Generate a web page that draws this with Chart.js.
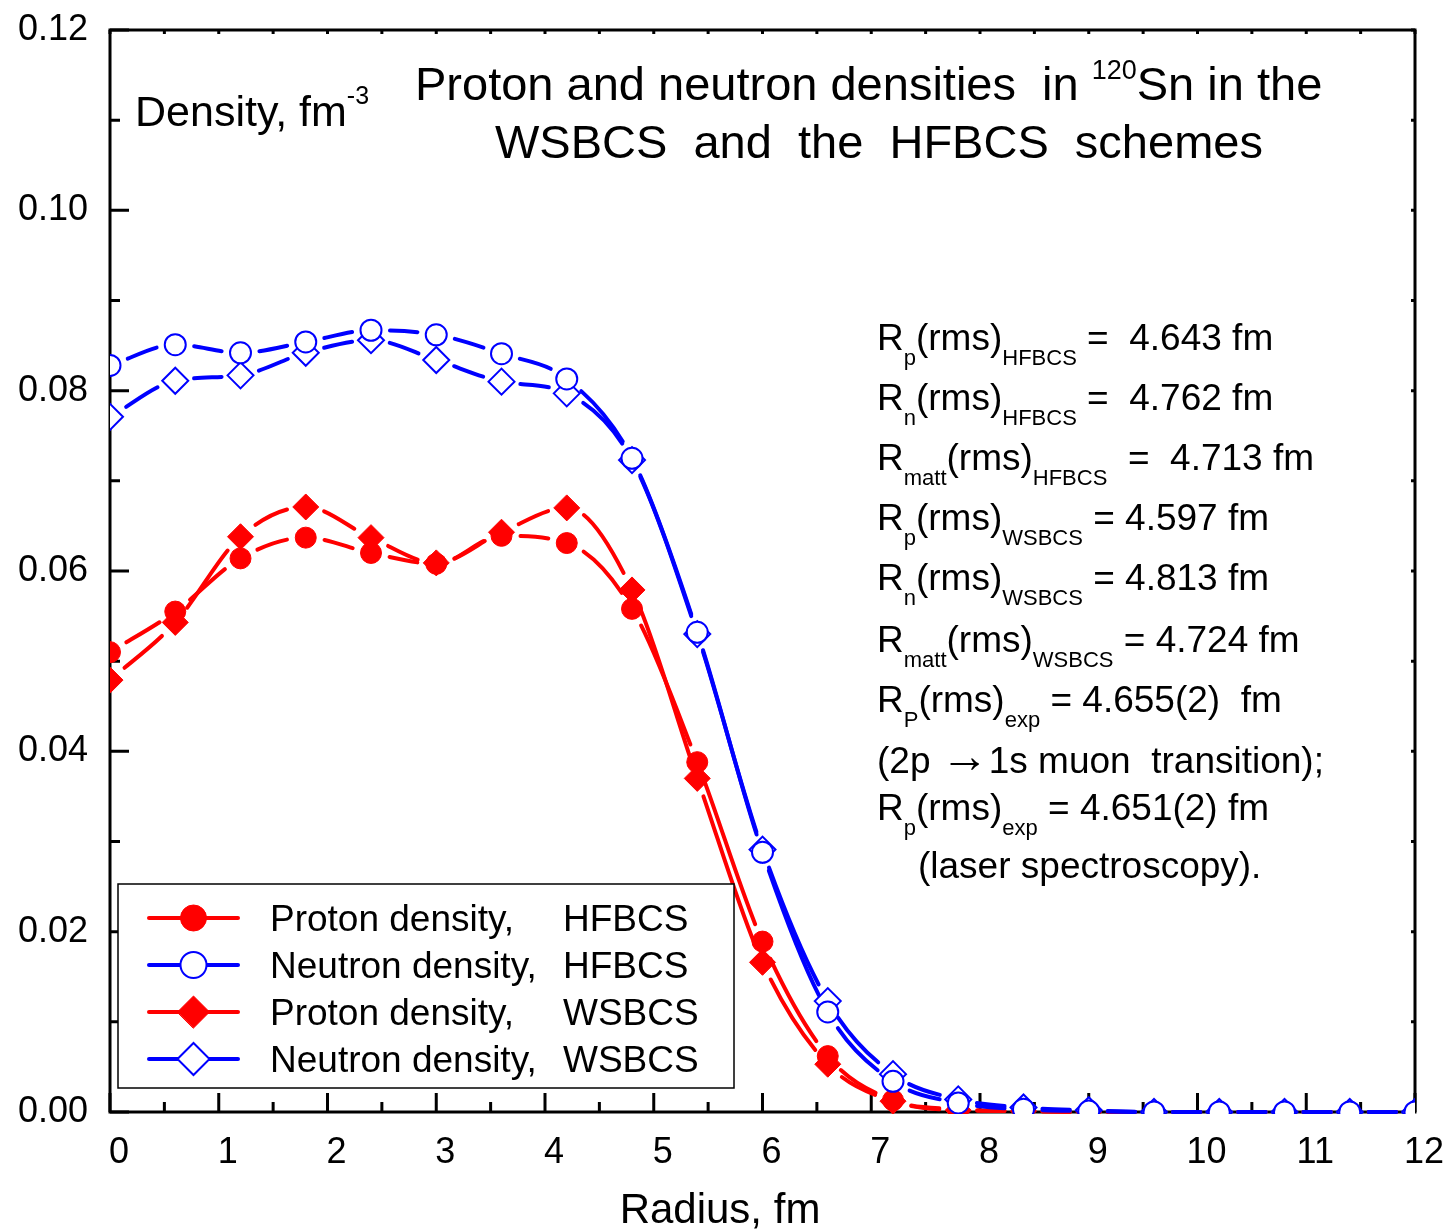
<!DOCTYPE html>
<html>
<head>
<meta charset="utf-8">
<title>Proton and neutron densities in 120Sn</title>
<script src="https://cdn.jsdelivr.net/npm/chart.js@4.4.1/dist/chart.umd.min.js"></script>
<style>
  html, body { margin: 0; padding: 0; background: #fff; }
  #wrap { position: relative; width: 1450px; height: 1230px; }
</style>
</head>
<body>
<div id="wrap"><canvas id="densityChart"></canvas></div>
<script>
const FONT = '"Liberation Sans", Arial, Helvetica, sans-serif';

// radial grid, fm
const radiusFm = [0, 0.6, 1.2, 1.8, 2.4, 3.0, 3.6, 4.2, 4.8, 5.4, 6.0, 6.6, 7.2, 7.8, 8.4, 9.0, 9.6, 10.2, 10.8, 11.4, 12.0];

// densities, fm^-3
const protonHFBCS  = [0.0510, 0.0555, 0.0614, 0.0637, 0.0620, 0.0608, 0.0639, 0.0631, 0.0558, 0.0388, 0.0189, 0.0062, 0.0013, 0.0003, 0.0001, 0, 0, 0, 0, 0, 0];
const neutronHFBCS = [0.0828, 0.0851, 0.0842, 0.0854, 0.0867, 0.0862, 0.0841, 0.0813, 0.0725, 0.0532, 0.0288, 0.0111, 0.0034, 0.0010, 0.0003, 0.0001, 0, 0, 0, 0, 0];
const protonWSBCS  = [0.0479, 0.0543, 0.0638, 0.0671, 0.0637, 0.0609, 0.0643, 0.0670, 0.0579, 0.0370, 0.0166, 0.0053, 0.0012, 0.0002, 0.0001, 0, 0, 0, 0, 0, 0];
const neutronWSBCS = [0.0771, 0.0811, 0.0817, 0.0842, 0.0856, 0.0834, 0.0810, 0.0797, 0.0723, 0.0530, 0.0291, 0.0123, 0.0042, 0.0014, 0.0005, 0.0002, 0, 0, 0, 0, 0];

const xTicks = [0, 1, 2, 3, 4, 5, 6, 7, 8, 9, 10, 11, 12];
const yTicks = [0, 0.02, 0.04, 0.06, 0.08, 0.10, 0.12];

const legendRows = [
  ['Proton density,', 'HFBCS'],
  ['Neutron density,', 'HFBCS'],
  ['Proton density,', 'WSBCS'],
  ['Neutron density,', 'WSBCS']
];

const titleLines = [
  [['Proton and neutron densities  in '], ['120', 'sup'], ['Sn in the']],
  [['WSBCS  and  the  HFBCS  schemes']]
];

const rmsLines = [
  [['R'], ['p', 'sub'], ['(rms)'], ['HFBCS', 'sub'], [' =  4.643 fm']],
  [['R'], ['n', 'sub'], ['(rms)'], ['HFBCS', 'sub'], [' =  4.762 fm']],
  [['R'], ['matt', 'sub'], ['(rms)'], ['HFBCS', 'sub'], ['  =  4.713 fm']],
  [['R'], ['p', 'sub'], ['(rms)'], ['WSBCS', 'sub'], [' = 4.597 fm']],
  [['R'], ['n', 'sub'], ['(rms)'], ['WSBCS', 'sub'], [' = 4.813 fm']],
  [['R'], ['matt', 'sub'], ['(rms)'], ['WSBCS', 'sub'], [' = 4.724 fm']],
  [['R'], ['P', 'sub'], ['(rms)'], ['exp', 'sub'], [' = 4.655(2)  fm']],
  [['(2p '], ['\u2192', 'big'], ['1s muon  transition);']],
  [['R'], ['p', 'sub'], ['(rms)'], ['exp', 'sub'], [' = 4.651(2) fm']],
  [['(laser spectroscopy).']]
];

const RED = '#ff0000';
const BLUE = '#0000ff';
const GAP = 19; // blank space left around each symbol

// length of one bezier piece of the line (chord if control points are not ready)
function pieceLength(p0, p1) {
  if (p0.cp2x === undefined || p1.cp1x === undefined) {
    return Math.hypot(p1.x - p0.x, p1.y - p0.y);
  }
  let len = 0, px = p0.x, py = p0.y;
  for (let k = 1; k <= 30; k++) {
    const t = k / 30, u = 1 - t;
    const x = u * u * u * p0.x + 3 * u * u * t * p0.cp2x + 3 * u * t * t * p1.cp1x + t * t * t * p1.x;
    const y = u * u * u * p0.y + 3 * u * u * t * p0.cp2y + 3 * u * t * t * p1.cp1y + t * t * t * p1.y;
    len += Math.hypot(x - px, y - py);
    px = x; py = y;
  }
  return len;
}

function dashFor(c) {
  const len = pieceLength(c.p0, c.p1);
  const on = Math.max(len - 2 * GAP, 0.5);
  const off = 2 * GAP + 1000 + c.p0DataIndex * 0.001; // unique per piece so each is stroked alone
  return { on, off };
}

const gapAroundSymbols = {
  borderDash: c => { const d = dashFor(c); return [d.on, d.off]; },
  borderDashOffset: c => { const d = dashFor(c); return d.on + d.off - GAP; }
};

function series(label, values, color, shape, filled, order) {
  return {
    label: label,
    data: radiusFm.map((r, i) => ({ x: r, y: values[i] })),
    borderColor: color,
    borderWidth: 4,
    borderCapStyle: 'round',
    cubicInterpolationMode: 'monotone',
    fill: false,
    pointStyle: shape,
    pointRadius: shape === 'circle' ? 10.5 : 13,
    pointBorderWidth: filled ? 1 : 2,
    pointBorderColor: color,
    pointBackgroundColor: filled ? color : '#ffffff',
    order: order,
    clip: { left: 0, top: 0, right: 0, bottom: 2 },
    segment: gapAroundSymbols
  };
}

function drawRich(ctx, x, y, runs, size, small, subDy, supDy) {
  let cx = x;
  for (const [text, kind] of runs) {
    let s = size, dy = 0;
    if (kind === 'sub') { s = small; dy = subDy; }
    else if (kind === 'sup') { s = small; dy = -supDy; }
    else if (kind === 'big') { s = Math.round(size * 1.3); dy = -1; }
    ctx.font = s + 'px ' + FONT;
    ctx.fillText(text, cx, y + dy);
    cx += ctx.measureText(text).width;
  }
}

// frame with inward ticks on all four sides
const framePlugin = {
  id: 'frame',
  beforeDatasetsDraw(chart) {
    const { ctx, chartArea: a, scales: { x, y } } = chart;
    ctx.save();
    ctx.strokeStyle = '#000';
    ctx.lineWidth = 3;
    ctx.lineCap = 'butt';
    ctx.beginPath();
    for (let i = 0; i < xTicks.length; i++) {
      const vals = [xTicks[i]];
      if (i < xTicks.length - 1) vals.push((xTicks[i] + xTicks[i + 1]) / 2);
      vals.forEach((v, j) => {
        const px = x.getPixelForValue(v);
        const len = j === 0 ? 19 : 10;
        ctx.moveTo(px, a.bottom); ctx.lineTo(px, a.bottom - len);
        ctx.moveTo(px, a.top); ctx.lineTo(px, a.top + 4);
      });
    }
    for (let i = 0; i < yTicks.length; i++) {
      const vals = [yTicks[i]];
      if (i < yTicks.length - 1) vals.push((yTicks[i] + yTicks[i + 1]) / 2);
      vals.forEach((v, j) => {
        const py = y.getPixelForValue(v);
        const len = j === 0 ? 19 : 10;
        ctx.moveTo(a.left, py); ctx.lineTo(a.left + len, py);
        ctx.moveTo(a.right, py); ctx.lineTo(a.right - 4, py);
      });
    }
    ctx.stroke();
    ctx.strokeRect(a.left, a.top, a.right - a.left, a.bottom - a.top);
    ctx.restore();
  },
  afterDatasetsDraw(chart) {
    const ctx = chart.ctx;
    const sets = chart.data.datasets;
    ctx.save();
    // legend box
    ctx.fillStyle = '#fff';
    ctx.fillRect(118, 884, 616, 204);
    ctx.strokeStyle = '#000';
    ctx.lineWidth = 1.5;
    ctx.strokeRect(118, 884, 616, 204);
    legendRows.forEach((row, i) => {
      const ds = sets[i];
      const cy = 918 + i * 47;
      ctx.strokeStyle = ds.borderColor;
      ctx.lineWidth = 4;
      ctx.lineCap = 'round';
      ctx.setLineDash([]);
      ctx.beginPath();
      ctx.moveTo(149, cy); ctx.lineTo(238, cy);
      ctx.stroke();
      ctx.beginPath();
      const mx = 193.5;
      if (ds.pointStyle === 'circle') {
        ctx.arc(mx, cy, 13, 0, Math.PI * 2);
      } else {
        ctx.moveTo(mx - 16, cy); ctx.lineTo(mx, cy - 16);
        ctx.lineTo(mx + 16, cy); ctx.lineTo(mx, cy + 16);
        ctx.closePath();
      }
      ctx.fillStyle = ds.pointBackgroundColor;
      ctx.fill();
      ctx.lineWidth = ds.pointBorderWidth;
      ctx.strokeStyle = ds.pointBorderColor;
      ctx.stroke();
      ctx.fillStyle = '#000';
      ctx.font = '37px ' + FONT;
      ctx.textBaseline = 'alphabetic';
      ctx.textAlign = 'left';
      ctx.fillText(row[0], 270, cy + 13);
      ctx.fillText(row[1], 563, cy + 13);
    });
    ctx.restore();
  },
  afterDraw(chart) {
    const ctx = chart.ctx;
    ctx.save();
    ctx.fillStyle = '#000';
    ctx.textBaseline = 'alphabetic';
    ctx.textAlign = 'left';
    // title
    drawRich(ctx, 415, 100, titleLines[0], 47, 27, 0, 21);
    drawRich(ctx, 495, 158, titleLines[1], 47, 27, 0, 21);
    // y axis label
    drawRich(ctx, 135, 126, [['Density, fm'], ['-3', 'sup']], 43, 25, 0, 22);
    // rms radii
    const baselines = [350, 410, 470, 530, 590, 652, 712, 773, 820, 878];
    rmsLines.forEach((runs, i) => {
      const x0 = i === rmsLines.length - 1 ? 918 : 877;
      drawRich(ctx, x0, baselines[i], runs, 37, 22, 15, 0);
    });
    // x axis label
    ctx.font = '42px ' + FONT;
    ctx.textAlign = 'center';
    ctx.fillText('Radius, fm', 720, 1223);
    ctx.restore();
  }
};

const ctx = document.getElementById('densityChart').getContext('2d');

const densityChart = new Chart(ctx, {
  type: 'line',
  data: {
    datasets: [
      series('Proton density, HFBCS', protonHFBCS, RED, 'circle', true, 2),
      series('Neutron density, HFBCS', neutronHFBCS, BLUE, 'circle', false, 0),
      series('Proton density, WSBCS', protonWSBCS, RED, 'rectRot', true, 3),
      series('Neutron density, WSBCS', neutronWSBCS, BLUE, 'rectRot', false, 1)
    ]
  },
  options: {
    responsive: true,
    maintainAspectRatio: false,
    animation: false,
    events: [],
    layout: { padding: { top: 30, right: 35, left: 0, bottom: 0 } },
    plugins: {
      legend: { display: false },
      tooltip: { enabled: false }
    },
    scales: {
      x: {
        type: 'linear',
        min: 0,
        max: 12,
        afterBuildTicks: s => { s.ticks = xTicks.map(v => ({ value: v })); },
        afterFit: s => { s.height = 118; s.paddingLeft = 0; s.paddingRight = 0; },
        grid: { display: false, drawTicks: false },
        border: { display: false },
        ticks: {
          color: '#000',
          font: { family: FONT, size: 36 },
          padding: 19,
          labelOffset: 9,
          maxRotation: 0,
          callback: v => String(v)
        }
      },
      y: {
        type: 'linear',
        min: 0,
        max: 0.12,
        afterBuildTicks: s => { s.ticks = yTicks.map(v => ({ value: v })); },
        afterFit: s => { s.width = 110; s.paddingTop = 0; s.paddingBottom = 0; },
        grid: { display: false, drawTicks: false },
        border: { display: false },
        ticks: {
          color: '#000',
          font: { family: FONT, size: 36 },
          padding: 22,
          callback: v => v.toFixed(2)
        }
      }
    }
  },
  plugins: [framePlugin]
});
</script>
</body>
</html>
